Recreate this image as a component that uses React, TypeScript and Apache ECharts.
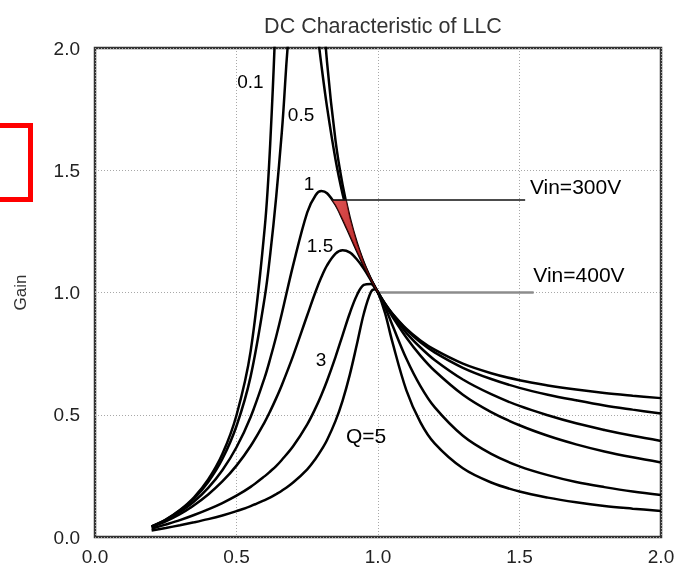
import React, { useEffect, useRef } from 'react';
import * as echarts from 'echarts';

// normalized frequency fn (x) shared by all curves
const xs = [0.2, 0.25, 0.3, 0.35, 0.4, 0.45, 0.5, 0.55, 0.6, 0.62, 0.64, 0.66, 0.7, 0.75, 0.78, 0.8, 0.82, 0.85, 0.875, 0.9, 0.925, 0.95, 0.975, 0.99, 1.0, 1.025, 1.05, 1.1, 1.15, 1.2, 1.3, 1.4, 1.5, 1.6, 1.7, 1.8, 1.9, 2.0];

// gain values (values above 2.0 run off the top of the plot)
const gainQ01 = [0.043, 0.071, 0.110, 0.162, 0.235, 0.339, 0.498, 0.760, 1.268, 1.629, 2.194, 3.185, 10.1, 4.281, 2.765, 2.268, 1.941, 1.620, 1.440, 1.306, 1.203, 1.121, 1.055, 1.021, 1.0, 0.954, 0.915, 0.852, 0.804, 0.766, 0.709, 0.670, 0.641, 0.620, 0.603, 0.589, 0.578, 0.568];
const gainQ05 = [0.043, 0.070, 0.108, 0.157, 0.225, 0.319, 0.454, 0.657, 0.982, 1.165, 1.388, 1.654, 2.216, 2.365, 2.118, 1.930, 1.758, 1.543, 1.402, 1.288, 1.195, 1.118, 1.054, 1.021, 1.0, 0.954, 0.914, 0.848, 0.796, 0.755, 0.692, 0.646, 0.610, 0.582, 0.559, 0.538, 0.521, 0.505];
const gainQ1 = [0.042, 0.068, 0.102, 0.145, 0.201, 0.273, 0.367, 0.491, 0.654, 0.733, 0.819, 0.913, 1.111, 1.328, 1.399, 1.415, 1.406, 1.359, 1.301, 1.237, 1.172, 1.110, 1.052, 1.020, 1.0, 0.952, 0.909, 0.835, 0.775, 0.724, 0.644, 0.584, 0.536, 0.498, 0.465, 0.438, 0.414, 0.393];
const gainQ15 = [0.041, 0.064, 0.093, 0.130, 0.174, 0.227, 0.292, 0.372, 0.471, 0.517, 0.567, 0.621, 0.741, 0.907, 1.005, 1.063, 1.111, 1.159, 1.173, 1.164, 1.136, 1.097, 1.050, 1.020, 1.0, 0.950, 0.903, 0.816, 0.742, 0.680, 0.582, 0.511, 0.457, 0.414, 0.379, 0.350, 0.326, 0.305];
const gainQ3 = [0.034, 0.051, 0.069, 0.090, 0.113, 0.139, 0.169, 0.205, 0.249, 0.269, 0.290, 0.315, 0.371, 0.461, 0.529, 0.581, 0.639, 0.737, 0.826, 0.914, 0.988, 1.031, 1.035, 1.018, 1.0, 0.940, 0.869, 0.730, 0.617, 0.531, 0.414, 0.340, 0.289, 0.253, 0.225, 0.204, 0.186, 0.172];
const gainQ5 = [0.027, 0.037, 0.048, 0.060, 0.073, 0.088, 0.106, 0.126, 0.151, 0.162, 0.175, 0.189, 0.223, 0.277, 0.321, 0.356, 0.397, 0.475, 0.558, 0.662, 0.786, 0.914, 1.002, 1.013, 1.0, 0.916, 0.801, 0.601, 0.469, 0.383, 0.281, 0.223, 0.186, 0.161, 0.142, 0.127, 0.116, 0.106];

const curveNames = ['Q=0.1', 'Q=0.5', 'Q=1', 'Q=1.5', 'Q=3', 'Q=5'];

// shaded operating region (between Q=1 and Q=0.1, below Vin=300V)
const redRegion = [[0.838, 1.378], [0.85, 1.359], [0.875, 1.301], [0.9, 1.237], [0.925, 1.172], [0.95, 1.110], [0.975, 1.052], [1.0, 1.0], [0.975, 1.055], [0.95, 1.121], [0.925, 1.203], [0.9, 1.306], [0.887, 1.378]];

const vin300Line = [[0.838, 1.378], [1.52, 1.378]];
const vin400Line = [[1.0, 1.0], [1.55, 1.0]];

const curveLabels = ['0.1', '0.5', '1', '1.5', '3'];
const curveLabelPos = [[0.549, 1.863], [0.728, 1.726], [0.756, 1.446], [0.795, 1.194], [0.799, 0.724]];
const noteLabels = ['Q=5', 'Vin=300V', 'Vin=400V'];
const noteLabelPos = [[0.958, 0.415], [1.698, 1.434], [1.710, 1.074]];

const FONT = '"Liberation Sans", Arial, Helvetica, sans-serif';

export default function App() {
  const ref = useRef<HTMLDivElement>(null);
  useEffect(() => {
    const chart = echarts.init(ref.current!, null, { renderer: 'svg' });
    const curves = [gainQ01, gainQ05, gainQ1, gainQ15, gainQ3, gainQ5];
    const series: any[] = [];
    curves.forEach((c, i) => {
      series.push({
        type: 'line',
        name: curveNames[i],
        data: xs.map((x, j) => [x, c[j]]),
        symbol: 'none',
        smooth: 0.35,
        clip: true,
        lineStyle: { color: '#000', width: 2.5 },
        z: 3,
        silent: true,
      });
    });
    series.push({
      type: 'custom',
      coordinateSystem: 'cartesian2d',
      silent: true,
      z: 4,
      data: redRegion,
      renderItem: (params: any, api: any) => {
        if (params.dataIndex !== 0) return null;
        const pts = redRegion.map((p) => api.coord(p));
        return {
          type: 'polygon',
          shape: { points: pts },
          style: {
            fill: new echarts.graphic.LinearGradient(0, 0, 1, 1, [
              { offset: 0, color: '#e25454' },
              { offset: 1, color: '#990c0c' },
            ]),
            stroke: '#5a0808',
            lineWidth: 0.8,
          },
        };
      },
    });
    series.push({
      type: 'line',
      data: vin300Line,
      symbol: 'none',
      lineStyle: { color: '#111', width: 1.5 },
      z: 5,
      silent: true,
    });
    series.push({
      type: 'line',
      data: vin400Line,
      symbol: 'none',
      lineStyle: { color: '#8c8c8c', width: 2.5 },
      z: 2,
      silent: true,
    });
    const labelStyle = { show: true, position: 'inside', formatter: '{b}', color: '#000', opacity: 1, textBorderWidth: 0, fontFamily: FONT };
    series.push({
      type: 'scatter',
      data: curveLabelPos.map((p, i) => ({ value: p, name: curveLabels[i] })),
      symbolSize: 1,
      itemStyle: { color: 'rgba(0,0,0,0)', opacity: 1 },
      label: { ...labelStyle, fontSize: 19 },
      z: 6,
      silent: true,
    });
    series.push({
      type: 'scatter',
      data: noteLabelPos.map((p, i) => ({ value: p, name: noteLabels[i] })),
      symbolSize: 1,
      itemStyle: { color: 'rgba(0,0,0,0)', opacity: 1 },
      label: { ...labelStyle, fontSize: 21 },
      z: 6,
      silent: true,
    });

    const axisCommon = {
      type: 'value',
      min: 0,
      max: 2,
      interval: 0.5,
      axisLine: { show: false },
      axisTick: { show: false },
      splitLine: { show: true, lineStyle: { color: '#a8a8a8', width: 1, type: [1, 2] } },
    };

    chart.setOption({
      animation: false,
      title: {
        text: 'DC Characteristic of LLC',
        left: 378,
        top: 10,
        textAlign: 'center',
        textStyle: { fontSize: 21.5, fontWeight: 'normal', color: '#333', fontFamily: FONT },
      },
      grid: {
        left: 95,
        right: 18,
        top: 48,
        bottom: 29,
        show: true,
        borderColor: '#333',
        borderWidth: 2.5,
        backgroundColor: 'transparent',
      },
      xAxis: {
        ...axisCommon,
        axisLabel: { formatter: (v: number) => v.toFixed(1), fontSize: 19, color: '#222', margin: 10, fontFamily: FONT },
      },
      yAxis: {
        ...axisCommon,
        name: 'Gain',
        nameLocation: 'middle',
        nameGap: 66,
        nameRotate: 90,
        nameTextStyle: { fontSize: 17, color: '#333', fontFamily: FONT },
        axisLabel: { formatter: (v: number) => v.toFixed(1), fontSize: 19, color: '#222', margin: 15, fontFamily: FONT },
      },
      graphic: [
        {
          type: 'rect',
          shape: { x: -20, y: 125.5, width: 50.5, height: 74 },
          style: { fill: 'none', stroke: '#ff0000', lineWidth: 5 },
          z: 10,
        },
      ],
      series,
    });
    return () => chart.dispose();
  }, []);
  return <div ref={ref} style={{ position: 'fixed', left: 0, top: 0, width: 679, height: 566 }} />;
}
